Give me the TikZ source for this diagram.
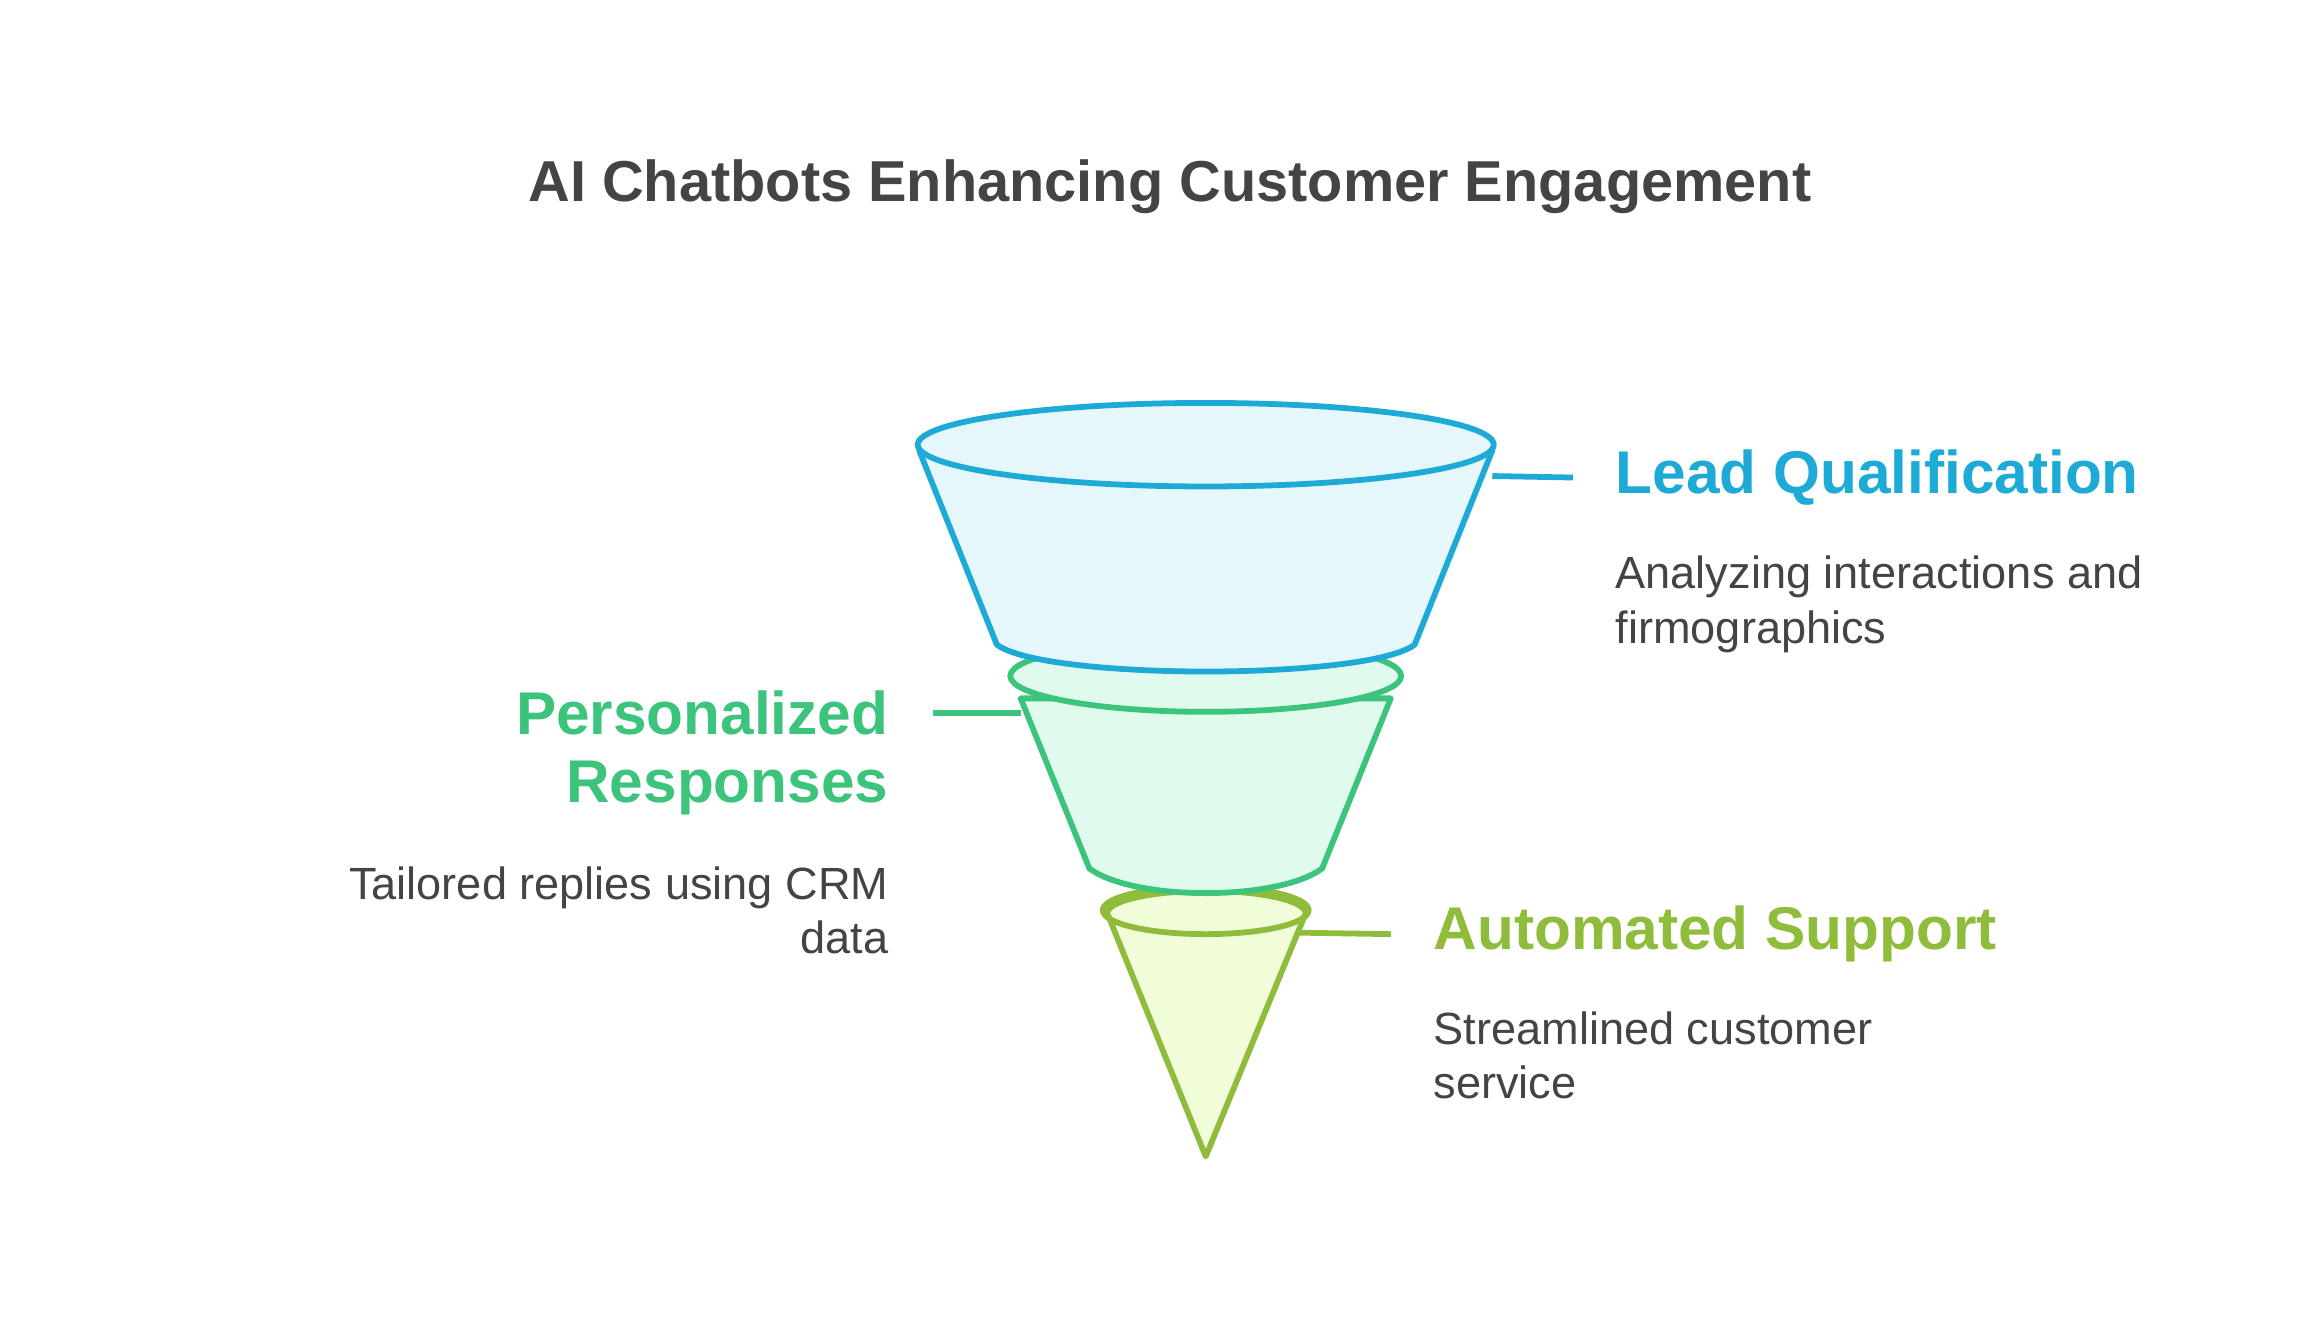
\documentclass[tikz,border=0pt]{standalone}
\usepackage{fontspec}
\setmainfont{Liberation Sans}
\usetikzlibrary{positioning, calc}
\definecolor{colBlue}{HTML}{1EAAD6}
\definecolor{colBlueFill}{HTML}{E6F7FC}
\definecolor{colGreen}{HTML}{3CC47C}
\definecolor{colGreenFill}{HTML}{E0FBEE}
\definecolor{colOlive}{HTML}{8FBC3A}
\definecolor{colOliveFill}{HTML}{F1FCD9}
\definecolor{colText}{HTML}{444444}
\tikzset{
    heading/.style={font=\bfseries\fontsize{11.5}{13}\selectfont},
    desc/.style={font=\fontsize{8.6}{10.4}\selectfont, text=colText, inner sep=0pt},
    stage/.style={line width=1.1pt, line join=round}
}
\begin{document}
\begin{tikzpicture}[x=0.01cm, y=-0.01cm]
    \useasboundingbox (0,0) rectangle (1548,897);
    % --- Title ---
    \node[font=\bfseries\fontsize{11}{13}\selectfont, text=colText] (title) at (784,125) {AI Chatbots Enhancing Customer Engagement};

    % --- Stage 3: Automated Support ---
    \draw[stage, draw=colOlive, fill=colOliveFill] (742,612) -- (808,775) -- (875,612) arc[start angle=0, end angle=180, x radius=66.5, y radius=-15] -- cycle;
    \draw[stage, draw=colOlive] (808,610) ellipse[x radius=69, y radius=16];

    % --- Stage 2: Personalized Responses ---
    \draw[stage, draw=colGreen, fill=colGreenFill] (684,468) -- (730,582) .. controls (760,604) and (856,604) .. (886,582) -- (932,468) -- cycle;
    \draw[stage, draw=colGreen, fill=colGreenFill] (808,453) ellipse[x radius=131, y radius=24];

    % --- Stage 1: Lead Qualification ---
    \draw[stage, draw=colBlue, fill=colBlueFill] (616,302) -- (668,432) .. controls (700,456) and (916,456) .. (948,432) -- (1000,302) -- cycle;
    \draw[stage, draw=colBlue, fill=colBlueFill] (808,298) ellipse[x radius=193, y radius=28];

    % --- Labels ---
    \node[heading, text=colBlue, anchor=west, inner sep=0pt] (leadT) at (1082,320) {Lead Qualification};
    \node[desc, anchor=north west, align=left] (leadD) at (1082,372) {Analyzing interactions and\\firmographics};
    \node[heading, text=colGreen, anchor=north east, inner sep=0pt, align=right] (persT) at (596,462) {Personalized\\Responses};
    \node[desc, anchor=north east, align=right] (persD) at (596,580) {Tailored replies using CRM\\data};
    \node[heading, text=colOlive, anchor=west, inner sep=0pt] (autoT) at (960,626) {Automated Support};
    \node[desc, anchor=north west, align=left] (autoD) at (960,677) {Streamlined customer\\service};

    % --- Connectors ---
    \coordinate (leadA) at (1000,319);
    \coordinate (persA) at (684,478);
    \coordinate (autoA) at (870,625);
    \draw[line width=1.1pt, colBlue] (leadA) -- ($(leadT.west)+(-28,0)$);
    \draw[line width=1.1pt, colGreen] (persA) -- (625,478);
    \draw[line width=1.1pt, colOlive] (autoA) -- ($(autoT.west)+(-28,0)$);
\end{tikzpicture}
\end{document}
